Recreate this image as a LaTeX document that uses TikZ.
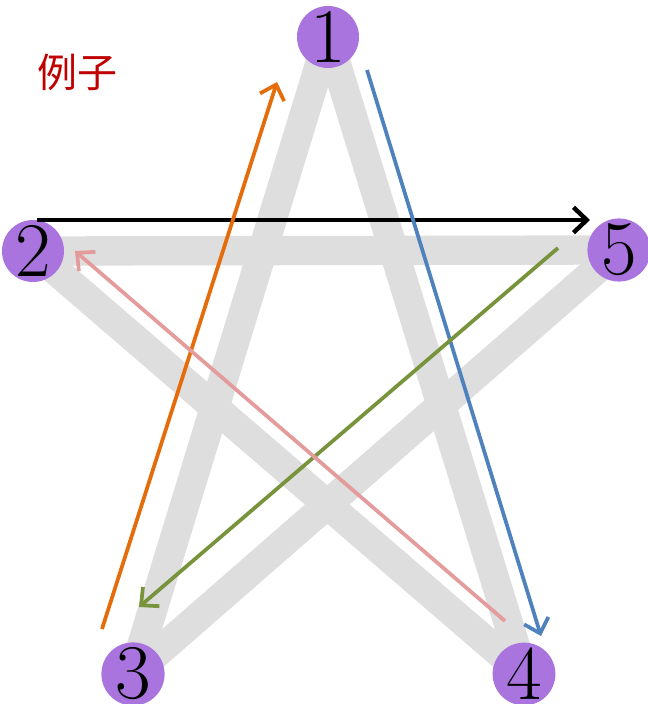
\documentclass[tikz,border=0pt]{standalone}
\usepackage{fontspec}
\newfontfamily\cjk{Noto Sans CJK SC}
\usetikzlibrary{arrows.meta}
\definecolor{bandgray}{HTML}{DEDEDE}
\definecolor{dotpurple}{HTML}{A974DE}
\definecolor{cblue}{HTML}{4F81BD}
\definecolor{corange}{HTML}{E46C0A}
\definecolor{cgreen}{HTML}{77933C}
\definecolor{cpink}{HTML}{E39B9B}
\definecolor{cred}{HTML}{C00000}
\begin{document}
\begin{tikzpicture}[x=0.75pt,y=-0.75pt,
  band/.style={line width=22pt,color=bandgray,line cap=round},
  dot/.style={circle,fill=dotpurple,minimum size=42pt,inner sep=0pt,font=\fontsize{58}{58}\selectfont},
  arr/.style={line width=2.8pt,-{Straight Barb[length=10pt,width=19pt]}},
  title/.style={font=\cjk\fontsize{30}{30}\selectfont,text=cred}]
\useasboundingbox (0,0) rectangle (648,704);
\coordinate (p1) at (328,37);
\coordinate (p2) at (33,251);
\coordinate (p3) at (133,674);
\coordinate (p4) at (524,674);
\coordinate (p5) at (619,250);
\draw[band] (p1) -- (p3);
\draw[band] (p1) -- (p4);
\draw[band] (p2) -- (p5);
\draw[band] (p2) -- (p4);
\draw[band] (p5) -- (p3);
\node[dot] (n1) at (p1) {1};
\node[dot] (n2) at (p2) {2};
\node[dot] (n3) at (p3) {3};
\node[dot] (n4) at (p4) {4};
\node[dot] (n5) at (p5) {5};
\node[title] (t) at (77,72) {例子};
% arrow end points
\coordinate (bs) at (37,220);
\coordinate (be) at (590,220);
\coordinate (us) at (367,70);
\coordinate (ue) at (541,636);
\coordinate (os) at (102,629);
\coordinate (oe) at (277,82);
\coordinate (gs) at (558,248);
\coordinate (ge) at (139,607);
\coordinate (ps) at (505,621);
\coordinate (pe) at (75,251);
\draw[arr,line width=3.3pt,black] (bs) -- (be);
\draw[arr,cblue] (us) -- (ue);
\draw[arr,corange] (os) -- (oe);
\draw[arr,cgreen] (gs) -- (ge);
\draw[arr,cpink] (ps) -- (pe);
\end{tikzpicture}
\end{document}
